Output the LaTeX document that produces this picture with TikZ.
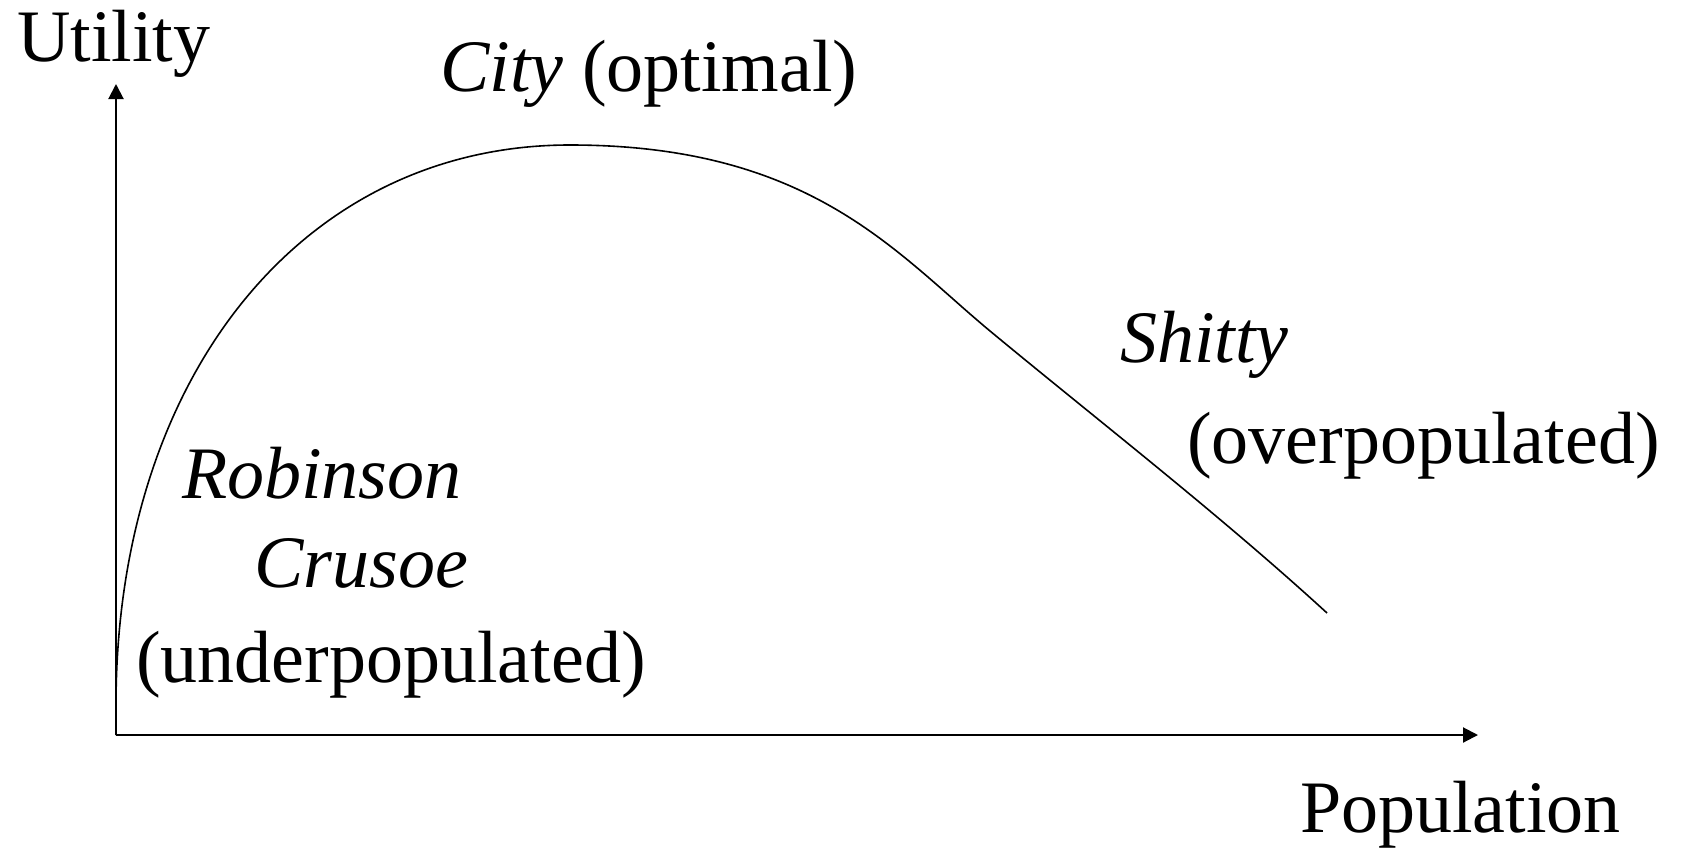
\documentclass[tikz,border=0pt]{standalone}
\usepackage{fontspec}
\setmainfont{Liberation Serif}
\usetikzlibrary{arrows.meta}
\begin{document}
\begin{tikzpicture}[x=1pt,y=-1pt,
  lbl/.style={anchor=base west,inner sep=0pt,font=\fontsize{74}{80}\selectfont},
  axis/.style={line width=2pt,-{Triangle[length=15pt,width=15pt]}},
  curve/.style={line width=1.6pt}]
\useasboundingbox (0,0) rectangle (1683,851);
\coordinate (O) at (116,735);
\coordinate (ytip) at (116,84);
\coordinate (xtip) at (1478,735);
\coordinate (c0) at (116,705);
\coordinate (c1) at (570,145);
\coordinate (c2) at (990,331);
\coordinate (c3) at (1327,613);
\draw[axis] (O) -- (ytip);
\draw[axis] (O) -- (xtip);
\draw[curve] (O) -- (c0)
  .. controls (116,380) and (300,145) .. (c1)
  .. controls (810,145) and (895,252) .. (c2)
  .. controls (1100,422) and (1220,515) .. (c3);
\node[lbl] (util) at (17,62) {Utility};
\node[lbl] (city) at (440,92) {\textit{City} (optimal)};
\node[lbl] (shitty) at (1120,362) {\textit{Shitty}};
\node[lbl] (over) at (1187,463) {(overpopulated)};
\node[lbl] (rob) at (182,498) {\textit{Robinson}};
\node[lbl] (cru) at (254,587) {\textit{Crusoe}};
\node[lbl] (under) at (136,682) {(underpopulated)};
\node[lbl] (pop) at (1300,832) {Population};
\end{tikzpicture}
\end{document}
